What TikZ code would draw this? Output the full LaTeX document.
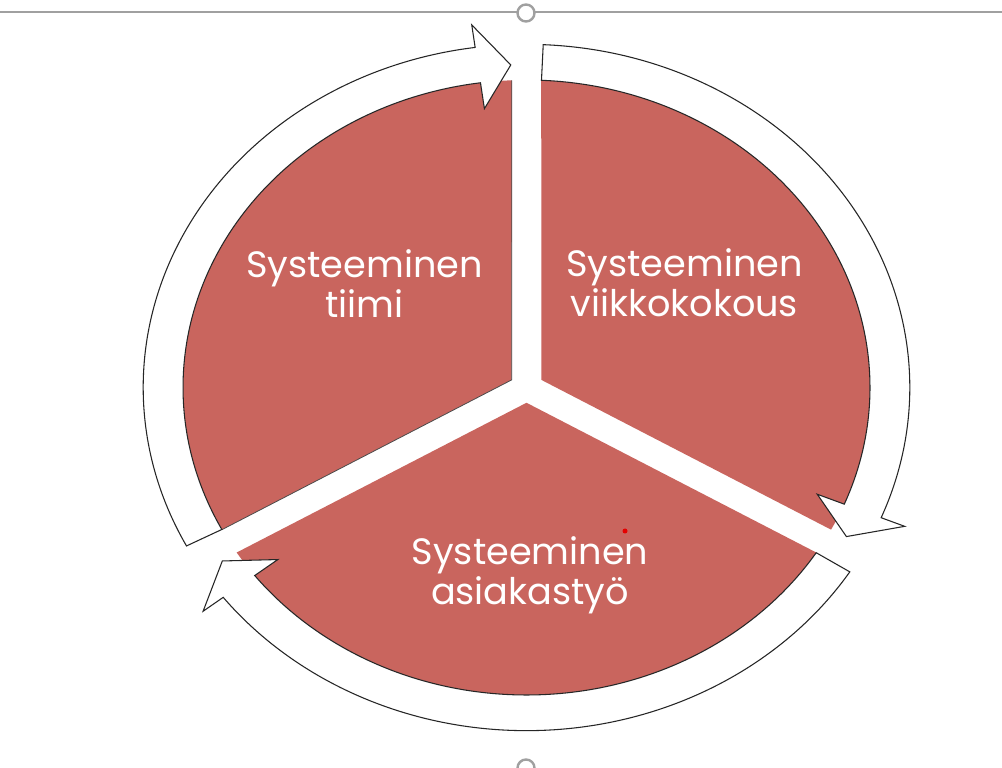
\documentclass[tikz,border=0pt]{standalone}
\usepackage{fontspec}
\setmainfont{Poppins}
\definecolor{slicered}{RGB}{201,101,94}
\definecolor{handlegray}{RGB}{160,160,160}
\begin{document}
\begin{tikzpicture}[x=0.75pt,y=0.75pt,
  slice/.style={fill=slicered, draw=none},
  sliceedge/.style={draw=black!70, line width=0.6pt},
  ringarrow/.style={fill=white, draw=black!85, line width=0.8pt, line join=miter},
  lbl/.style={text=white, font=\fontsize{27.5}{30}\selectfont, align=center, inner sep=0pt, anchor=base},
  handle/.style={draw=handlegray, line width=1.8pt, fill=white}]
\clip (0,0) rectangle (1002,767);
\fill[white] (0,0) rectangle (1002,767);
% selection frame line and handles
\draw[handlegray, line width=1.4pt] (0,755) -- (1002,755);
\draw[handle] (526,754) circle[radius=8.5];
\draw[handle] (526,-1) circle[radius=8.5];
\begin{scope}[shift={(526.5,379.5)}, xscale=343.5, yscale=307.5]
  % pie slices
  \foreach \p/\a/\b in {150/207.54/92.46, 30/87.54/-27.54, 270/327.54/212.46} {
    \fill[slice] (\p:0.0497) -- (\a:1) arc[start angle=\a, end angle=\b, radius=1] -- cycle;
  }
  \draw[sliceedge] (92.46:1) -- (150:0.0497) -- (207.54:1);
  % circular arrows
  \foreach \ta/\tb/\tc in {207.5/97.7/92.5, 87.5/-22.3/-27.5, 327.5/217.7/212.5} {
    \draw[ringarrow] (\ta:1.116) arc[start angle=\ta, end angle=\tb, radius=1.116]
      -- (\tb:1.19) -- (\tc:1.05) -- (\tb:0.915) -- (\tb:1)
      arc[start angle=\tb, end angle=\ta, radius=1] -- cycle;
  }
\end{scope}
\node[lbl] (tiimi) at (364.5,449) {Systeeminen\\tiimi};
\node[lbl] (viikko) at (684.5,450) {Systeeminen\\viikkokokous};
\node[lbl] (asiakas) at (530,162) {Systeeminen\\asiakastyö};
\fill[red!90!black] (625,236) circle[radius=2.5];
\end{tikzpicture}
\end{document}
